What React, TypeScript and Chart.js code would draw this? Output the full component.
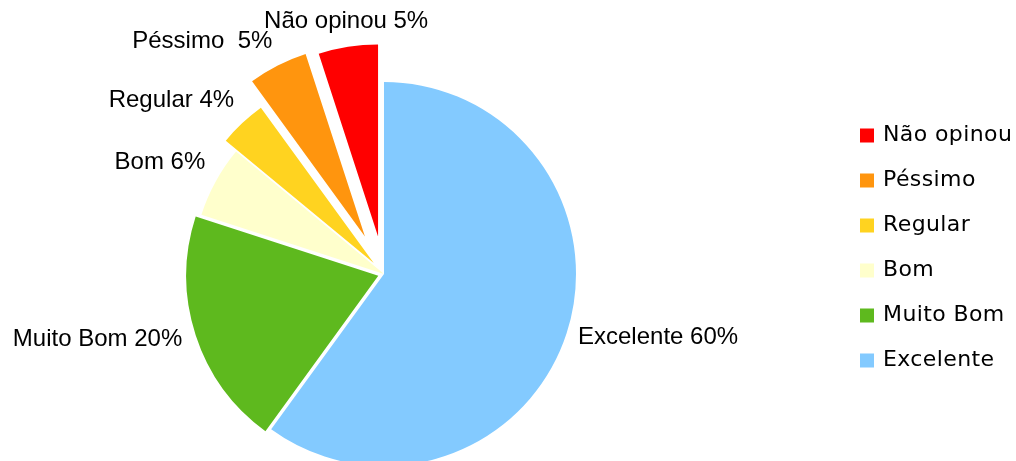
import React, { useEffect, useRef } from "react";
import { Chart, registerables } from "chart.js";

Chart.register(...registerables);

// ---- data ----
const categories = ["Excelente", "Muito Bom", "Bom", "Regular", "Péssimo", "Não opinou"];
const values = [60, 20, 6, 4, 5, 5];
const labelSeparators = [" ", " ", " ", " ", "  ", " "];

// ---- styles ----
const colors = ["#83CAFF", "#5EB91E", "#FFFFCC", "#FFD320", "#FF950E", "#FF0000"];
const explode = [0, 6, 0, 15, 42, 38]; // px shift of each slice along its mid angle
const PIE_RADIUS = 192;
const LABEL_GAP = 12;
const LABEL_FONT = '24px "Liberation Sans", Arial, sans-serif';
const LEGEND_FONT = '22px "DejaVu Sans", Verdana, sans-serif';
const LEGEND_X = 860;
const LEGEND_Y0 = 128.5;
const LEGEND_STEP = 45;
const LEGEND_BOX = 14;
const LEGEND_TEXT_X = 883;

const sliceLabels = categories.map((c, i) => `${c}${labelSeparators[i]}${values[i]}%`);

const explodePlugin = {
  id: "explodeSlices",
  beforeDatasetDraw(chart: any, args: any) {
    const ctx = chart.ctx;
    const meta = args.meta;
    meta.data.forEach((arc: any, i: number) => {
      const mid = (arc.startAngle + arc.endAngle) / 2;
      const d = explode[i] || 0;
      ctx.save();
      ctx.translate(Math.cos(mid) * d, Math.sin(mid) * d);
      arc.draw(ctx, chart.chartArea);
      ctx.restore();
    });
    return false;
  },
  afterDraw(chart: any) {
    const ctx = chart.ctx;
    const meta = chart.getDatasetMeta(0);
    ctx.save();
    ctx.fillStyle = "#000";
    ctx.font = LABEL_FONT;
    meta.data.forEach((arc: any, i: number) => {
      const mid = (arc.startAngle + arc.endAngle) / 2;
      const cx = Math.cos(mid);
      const sy = Math.sin(mid);
      const r = arc.outerRadius + (explode[i] || 0) + LABEL_GAP;
      const px = arc.x + cx * r;
      const py = arc.y + sy * r;
      ctx.textAlign = cx > 0.3 ? "left" : cx < -0.3 ? "right" : "center";
      if (sy < -0.4) {
        ctx.textBaseline = "alphabetic";
        ctx.fillText(sliceLabels[i], px, py - 7);
      } else if (sy > 0.4) {
        ctx.textBaseline = "top";
        ctx.fillText(sliceLabels[i], px, py + 4);
      } else {
        ctx.textBaseline = "middle";
        ctx.fillText(sliceLabels[i], px - (cx < 0 ? 2 : 0), py);
      }
    });
    // legend (reversed order)
    ctx.font = LEGEND_FONT;
    try {
      (ctx as any).letterSpacing = "0.4px";
    } catch (e) {}
    ctx.textAlign = "left";
    ctx.textBaseline = "middle";
    const n = categories.length;
    for (let k = 0; k < n; k++) {
      const idx = n - 1 - k;
      const top = LEGEND_Y0 + k * LEGEND_STEP;
      ctx.fillStyle = colors[idx];
      ctx.fillRect(LEGEND_X, top, LEGEND_BOX, LEGEND_BOX);
      ctx.fillStyle = "#000";
      ctx.fillText(categories[idx], LEGEND_TEXT_X, top + LEGEND_BOX / 2);
    }
    ctx.restore();
  },
};

export default function App() {
  const ref = useRef<HTMLCanvasElement>(null);
  useEffect(() => {
    if (!ref.current) return;
    const chart = new Chart(ref.current, {
      type: "pie",
      data: {
        labels: categories,
        datasets: [
          {
            data: values,
            backgroundColor: colors,
            borderWidth: 0,
            radius: PIE_RADIUS,
            clip: false,
          } as any,
        ],
      },
      options: {
        responsive: false,
        animation: false,
        events: [],
        layout: { padding: { left: 0, right: 248, top: 87, bottom: 0 } },
        plugins: {
          legend: { display: false },
          tooltip: { enabled: false },
        },
      },
      plugins: [explodePlugin],
    });
    return () => chart.destroy();
  }, []);
  return (
    <div style={{ position: "fixed", left: 0, top: 0, width: 1016, height: 461, background: "#fff" }}>
      <canvas ref={ref} width={1016} height={461} />
    </div>
  );
}
